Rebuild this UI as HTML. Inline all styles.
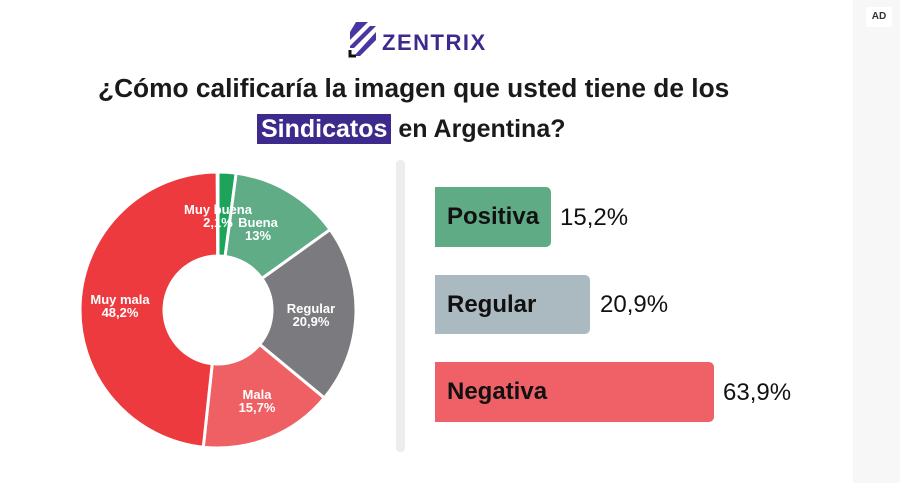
<!DOCTYPE html>
<html><head><meta charset="utf-8"><style>
body{margin:0;width:900px;height:483px;background:#fff;position:relative;overflow:hidden;font-family:"Liberation Sans",sans-serif}
.strip{position:absolute;left:853px;top:0;width:47px;height:483px;background:#f7f7f7}
.ad{position:absolute;left:866px;top:7px;width:26px;height:20px;background:#fff;font-size:10px;font-weight:bold;color:#333;text-align:center;line-height:20px}
.t{position:absolute;font-size:26.3px;font-weight:bold;color:#1a1a1a;white-space:nowrap}
.hl{background:#3d2a8c;color:#fff;padding:1px 4px}
.sep{position:absolute;left:396px;top:160px;width:9px;height:292px;background:#eceeee;border-radius:4px}
.bar{position:absolute;left:435px;border-radius:0 5px 5px 0;font-size:24px;font-weight:bold;color:#111;box-sizing:border-box;padding-left:12px;display:flex;align-items:center}
.v{position:absolute;font-size:24px;color:#111;font-weight:500}
</style></head><body>
<div class="strip"></div><div class="ad">AD</div>
<svg style="position:absolute;left:346px;top:20px" width="34" height="40" viewBox="0 0 34 40">
<g fill="#4a36a0"><path d="M10 2 L22 2 L4 20 L4 12Z"/><path d="M24 6 L30 6 L8 28 L4 28 L4 26Z"/><path d="M30 12 L30 20 L14 36 L8 36Z"/></g>
<path d="M4 30 L4 36 L10 36" stroke="#111" stroke-width="3" fill="none"/>
</svg>
<div class="t" style="left:382px;top:30px;font-size:22px;color:#3d2a8c;letter-spacing:1.5px">ZENTRIX</div>
<div class="t" style="left:98px;top:73px">¿Cómo calificaría la imagen que usted tiene de los</div>
<div class="t" style="left:257px;top:115px;font-size:25px"><span class="hl">Sindicatos</span> en Argentina?</div>
<svg id="d" style="position:absolute;left:0;top:0" width="400" height="483"></svg>
<div class="sep"></div>
<div class="bar" style="top:187px;width:116px;height:60px;background:#5eab86">Positiva</div>
<div class="v" style="left:560px;top:204px">15,2%</div>
<div class="bar" style="top:275px;width:155px;height:59px;background:#abb9c1">Regular</div>
<div class="v" style="left:600px;top:291px">20,9%</div>
<div class="bar" style="top:362px;width:279px;height:60px;background:#ef6166">Negativa</div>
<div class="v" style="left:723px;top:379px">63,9%</div>
<script>
var cx=218,cy=310,R=138,r=54;
var data=[[2.1,"#1ea35a"],[13,"#5fac86"],[20.9,"#7b7b7f"],[15.7,"#ef6064"],[48.2,"#ec3a3f"]];
var s="",a=0;
function p(rad,ang){return (cx+rad*Math.sin(ang)).toFixed(2)+","+(cy-rad*Math.cos(ang)).toFixed(2)}
data.forEach(function(d){var b=a+d[0]/100*2*Math.PI;var l=(b-a)>Math.PI?1:0;
s+='<path d="M'+p(R,a)+' A'+R+','+R+' 0 '+l+' 1 '+p(R,b)+' L'+p(r,b)+' A'+r+','+r+' 0 '+l+' 0 '+p(r,a)+'Z" fill="'+d[1]+'" stroke="#fff" stroke-width="3" stroke-linejoin="round"/>';a=b;});
var L=[[218,214,"Muy buena","2,1%"],[258,227,"Buena","13%"],[311,313,"Regular","20,9%"],[257,399,"Mala","15,7%"],[120,304,"Muy mala","48,2%"]];
L.forEach(function(q){s+='<text x="'+q[0]+'" y="'+q[1]+'" text-anchor="middle" font-family="Liberation Sans" font-weight="bold" font-size="13" fill="#fff"><tspan x="'+q[0]+'">'+q[2]+'</tspan><tspan x="'+q[0]+'" dy="13">'+q[3]+'</tspan></text>';});
document.getElementById("d").innerHTML=s;
</script>
</body></html>
